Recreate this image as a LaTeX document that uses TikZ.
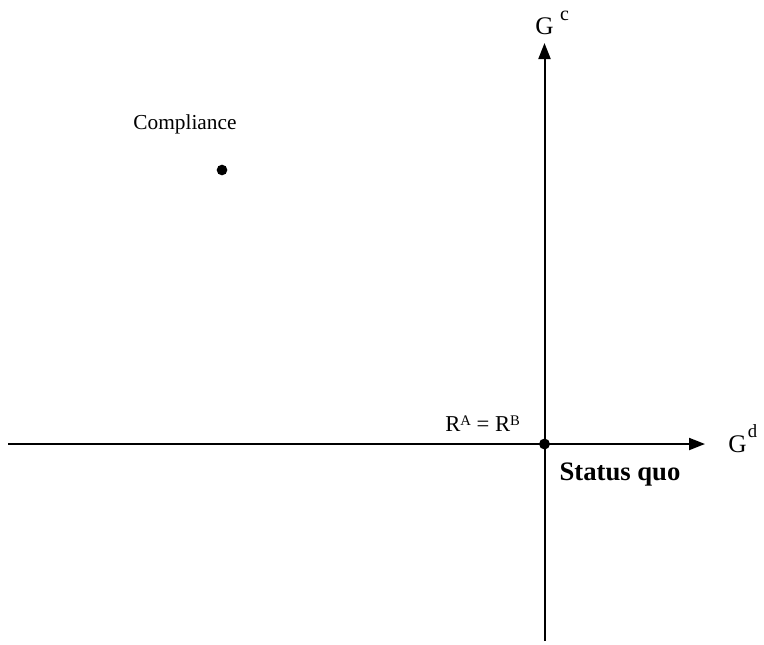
\documentclass[tikz,border=0pt]{standalone}
\usepackage{fontspec}
\setmainfont{Liberation Serif}
\usetikzlibrary{arrows.meta}
\begin{document}
\begin{tikzpicture}[x=0.75pt,y=-0.75pt,
  axis/.style={line width=1.5pt,-{Triangle[length=12pt,width=9pt]}},
  lbl/.style={inner sep=0pt},
  dot/.style={circle,fill=black,inner sep=0pt,minimum size=#1}]
\useasboundingbox (0,0) rectangle (764,644);
\coordinate (xl) at (8,444);
\coordinate (xr) at (705,444);
\coordinate (yb) at (544.5,641);
\coordinate (yt) at (544.5,43);
\draw[axis] (xl) -- (xr);
\draw[axis] (yb) -- (yt);
\node[dot=8.2pt] (sq) at (544.5,444) {};
\node[dot=8pt] (comp) at (222,170) {};
\node[lbl,anchor=base,font=\fontsize{16}{19}\selectfont] (comptext) at (185,129) {Compliance};
\node[lbl,anchor=base west,font=\fontsize{19}{22}\selectfont] (gc) at (535,34) {G\hspace{5pt}\raisebox{10.5pt}{\fontsize{15}{18}\selectfont c}};
\node[lbl,anchor=base west,font=\fontsize{19}{22}\selectfont] (gd) at (728,452) {G\hspace{1pt}\raisebox{11pt}{\fontsize{14}{17}\selectfont d}};
\node[lbl,anchor=base west,font=\fontsize{17}{20}\selectfont] (r) at (445,431) {R\raisebox{4pt}{\fontsize{11}{13}\selectfont A} = R\raisebox{4pt}{\fontsize{11}{13}\selectfont B}};
\node[lbl,anchor=base,font=\fontsize{20}{24}\selectfont\bfseries] (sqt) at (620,480) {Status quo};
\end{tikzpicture}
\end{document}
